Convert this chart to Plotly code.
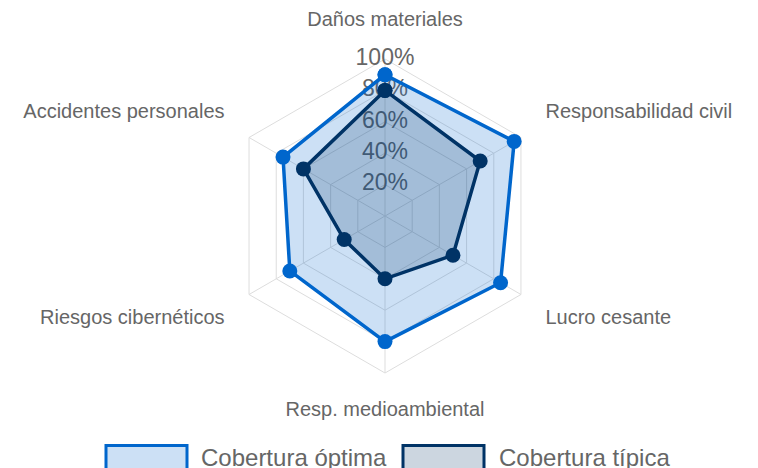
import plotly.graph_objects as go

# --- datos ---
categorias = ["Daños materiales", "Responsabilidad civil", "Lucro cesante",
              "Resp. medioambiental", "Riesgos cibernéticos", "Accidentes personales"]
cobertura_optima = [90, 95, 85, 80, 70, 75]
cobertura_tipica = [80, 70, 50, 40, 30, 60]
ticks_radiales = [20, 40, 60, 80, 100]
etiquetas_radiales = ["20%", "40%", "60%", "80%", "100%"]

series = [
    ("Cobertura óptima", cobertura_optima, "#0066cc", "rgba(0,102,204,0.2)"),
    ("Cobertura típica", cobertura_tipica, "#003366", "rgba(0,51,102,0.2)"),
]

FUENTE = "Liberation Sans, Arial, sans-serif"
GRIS = "#666666"
REJILLA = "#dddddd"
W, H = 758, 468
CX, CY, RAD = 385, 216, 157   # centro y radio del radar en píxeles
EXT = 1.25                    # escala del radar auxiliar para los rótulos


def dominio(radio):
    return dict(x=[(CX - radio) / W, (CX + radio) / W],
                y=[(H - CY - radio) / H, (H - CY + radio) / H])


fig = go.Figure()

# etiquetas de la escala radial (debajo de los rellenos, como en el original)
fig.add_trace(go.Scatterpolar(
    r=ticks_radiales,
    theta=[categorias[0]] * len(ticks_radiales),
    mode="text",
    text=etiquetas_radiales,
    textposition="middle center",
    textfont=dict(family=FUENTE, size=23, color=GRIS),
    hoverinfo="skip",
    showlegend=False,
))

for nombre, valores, color, relleno in series:
    fig.add_trace(go.Scatterpolar(
        r=valores + valores[:1],
        theta=categorias + categorias[:1],
        name=nombre,
        mode="lines+markers",
        fill="toself",
        fillcolor=relleno,
        line=dict(color=color, width=3.5),
        marker=dict(color=color, size=15),
        showlegend=False,
    ))

# nombres de las categorías en un radar auxiliar invisible, más grande
fig.add_trace(go.Scatterpolar(
    r=[118] * len(categorias),
    theta=categorias,
    mode="text",
    text=categorias,
    textposition=["top center", "top right", "bottom right",
                  "bottom center", "bottom left", "top left"],
    textfont=dict(family=FUENTE, size=20, color=GRIS),
    cliponaxis=False,
    hoverinfo="skip",
    showlegend=False,
    subplot="polar2",
))

eje_oculto = dict(showgrid=False, showline=False, showticklabels=False, ticks="")

fig.update_layout(
    width=W, height=H,
    margin=dict(l=0, r=0, t=0, b=0),
    paper_bgcolor="white",
    font=dict(family=FUENTE, color=GRIS),
    polar=dict(
        domain=dominio(RAD),
        bgcolor="white",
        gridshape="linear",
        radialaxis=dict(
            range=[0, 100], tickvals=ticks_radiales, showticklabels=False,
            ticks="", showline=False, gridcolor=REJILLA, gridwidth=1,
            layer="below traces",
        ),
        angularaxis=dict(
            direction="clockwise", rotation=90,
            showline=True, linecolor=REJILLA, linewidth=1,
            gridcolor=REJILLA, gridwidth=1,
            ticks="", showticklabels=False,
            layer="below traces",
        ),
    ),
    polar2=dict(
        domain=dominio(RAD * EXT),
        bgcolor="rgba(0,0,0,0)",
        gridshape="linear",
        radialaxis=dict(range=[0, 100 * EXT], **eje_oculto),
        angularaxis=dict(direction="clockwise", rotation=90, **eje_oculto),
    ),
)

# leyenda dibujada a mano (cajas anchas con borde grueso)
leyenda_x = [(106, 187, 199), (403, 484, 497)]
for (x0, x1, xt), (nombre, _, color, relleno) in zip(leyenda_x, series):
    fig.add_shape(type="rect", xref="paper", yref="paper",
                  x0=x0 / W, x1=x1 / W, y0=-12 / H, y1=22.5 / H,
                  line=dict(color=color, width=3), fillcolor=relleno)
    fig.add_annotation(text=nombre, xref="paper", yref="paper",
                       x=xt / W, y=11 / H, xanchor="left", yanchor="middle",
                       showarrow=False,
                       font=dict(family=FUENTE, size=24, color=GRIS))

fig.write_html("out.html", config={"displayModeBar": False},
               post_script="document.body.style.margin='0';")
